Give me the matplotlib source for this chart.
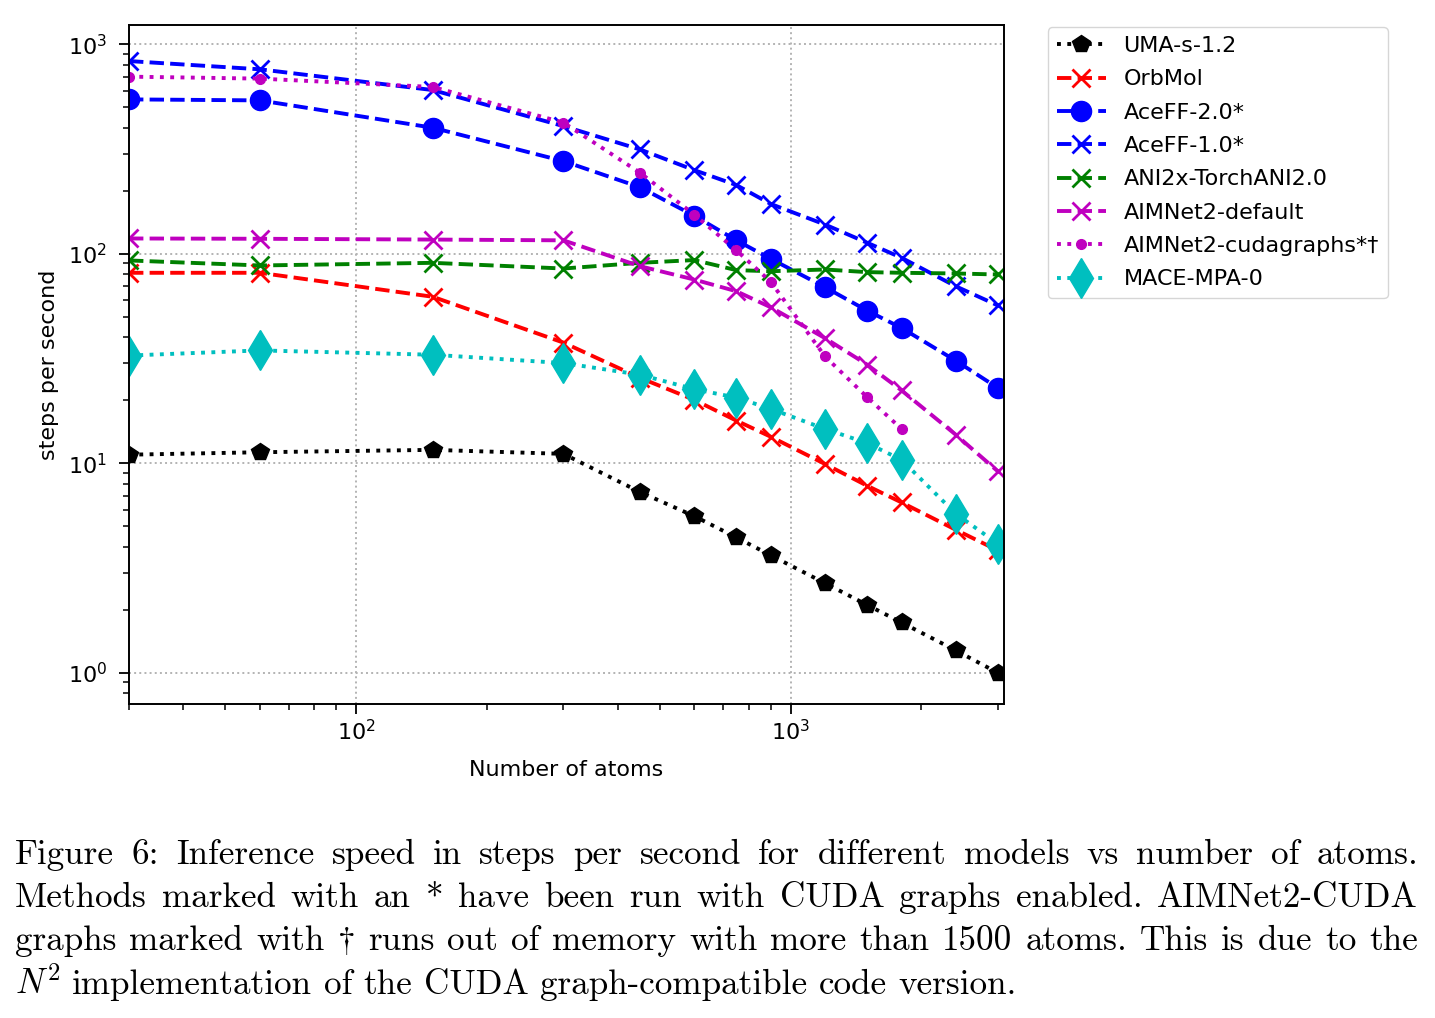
import matplotlib
matplotlib.use("Agg")
import matplotlib.pyplot as plt

atoms = [30, 60, 150, 300, 450, 600, 750, 900, 1200, 1500, 1800, 2400, 3000]
atoms_cuda = atoms[:11]

uma = [11.0, 11.3, 11.6, 11.1, 7.3, 5.6, 4.43, 3.64, 2.68, 2.11, 1.74, 1.28, 1.0]
orbmol = [81.2, 81.2, 62.4, 37.7, 25.6, 20.1, 16.0, 13.4, 9.93, 7.82, 6.51, 4.82, 3.84]
aceff2 = [546, 540, 400, 277, 208, 152, 116, 94.7, 69.3, 53.6, 44.3, 30.9, 22.9]
aceff1 = [832, 760, 605, 407, 315, 251, 213, 173, 138, 113, 95.8, 70, 56.7]
ani2x = [93, 88, 90.6, 85.1, 90.6, 93.4, 83.6, 82.6, 84.2, 81.8, 81.2, 80.6, 79.7]
aimnet_default = [118.4, 118, 117, 116, 87.3, 75.4, 66.3, 55.6, 39.6, 29.6, 22.3, 13.7, 9.16]
aimnet_cuda = [701, 686, 626, 423, 244, 154, 104, 73.5, 32.4, 20.7, 14.6]
mace = [32.7, 34.6, 33.0, 30.1, 26.5, 22.6, 20.6, 18.2, 14.6, 12.5, 10.4, 5.75, 4.13]

caption = [
    "Figure 6: Inference speed in steps per second for different models vs number of atoms.",
    "Methods marked with an * have been run with CUDA graphs enabled. AIMNet2-CUDA",
    "graphs marked with $\\dagger$ runs out of memory with more than 1500 atoms. This is due to the",
    "$N^2$ implementation of the CUDA graph-compatible code version.",
]

fs = 16
lw = 2.8
fig = plt.figure(figsize=(14.35, 10.18), dpi=100)
ax = fig.add_axes([0.0899, 0.3084, 0.6098, 0.667])

ax.plot(atoms, uma, ":", color="k", marker="p", ms=13, lw=lw, label="UMA-s-1.2")
ax.plot(atoms, orbmol, "--", color="r", marker="x", ms=13, mew=2, lw=lw, label="OrbMol")
ax.plot(atoms, aceff2, "--", color="b", marker="o", ms=14.5, lw=lw, label="AceFF-2.0*")
ax.plot(atoms, aceff1, "--", color="b", marker="x", ms=13, mew=2, lw=lw, label="AceFF-1.0*")
ax.plot(atoms, ani2x, "--", color="g", marker="x", ms=13, mew=2, lw=lw, label="ANI2x-TorchANI2.0")
ax.plot(atoms, aimnet_default, "--", color="m", marker="x", ms=13, mew=2, lw=lw, label="AIMNet2-default")
ax.plot(atoms_cuda, aimnet_cuda, ":", color="m", marker="o", ms=7, lw=lw, label="AIMNet2-cudagraphs*†")
ax.plot(atoms, mace, ":", color="c", marker="d", ms=20, lw=lw, label="MACE-MPA-0")

ax.set_xscale("log")
ax.set_yscale("log")
ax.set_xlim(30, 3100)
ax.set_ylim(0.71, 1236)
ax.grid(True, which="major", linestyle=":", color="0.7", lw=1.4)
ax.set_xlabel("Number of atoms", fontsize=fs, labelpad=12)
ax.set_ylabel("steps per second", fontsize=fs, labelpad=6)
ax.tick_params(which="major", labelsize=fs, length=7, width=1.3)
ax.tick_params(axis="y", which="major", pad=9)
ax.tick_params(which="minor", length=4, width=1.1)
for s in ax.spines.values():
    s.set_linewidth(1.4)

ax.legend(loc="upper left", bbox_to_anchor=(1.05, 0.997), borderaxespad=0,
          fontsize=fs, handlelength=2.2, labelspacing=0.6)

# justified caption, set word by word
r = fig.canvas.get_renderer()
left, right = 15, 1418
baselines = [864, 907, 950, 994]
W, H = fig.bbox.width, fig.bbox.height
cap_kw = dict(fontsize=25.3, family=["cmr10", "DejaVu Serif"], math_fontfamily="cm",
              va="baseline", ha="left")
for i, line in enumerate(caption):
    words = line.split(" ")
    texts = [fig.text(0, 1 - baselines[i] / H, w, **cap_kw) for w in words]
    widths = [t.get_window_extent(r).width for t in texts]
    if i < len(caption) - 1:
        gap = (right - left - sum(widths)) / (len(words) - 1)
    else:
        gap = 0.33 * 25.3 * 100 / 72
    x = left
    for t, w in zip(texts, widths):
        t.set_x(x / W)
        x += w + gap

plt.savefig("out.png", dpi=100)
